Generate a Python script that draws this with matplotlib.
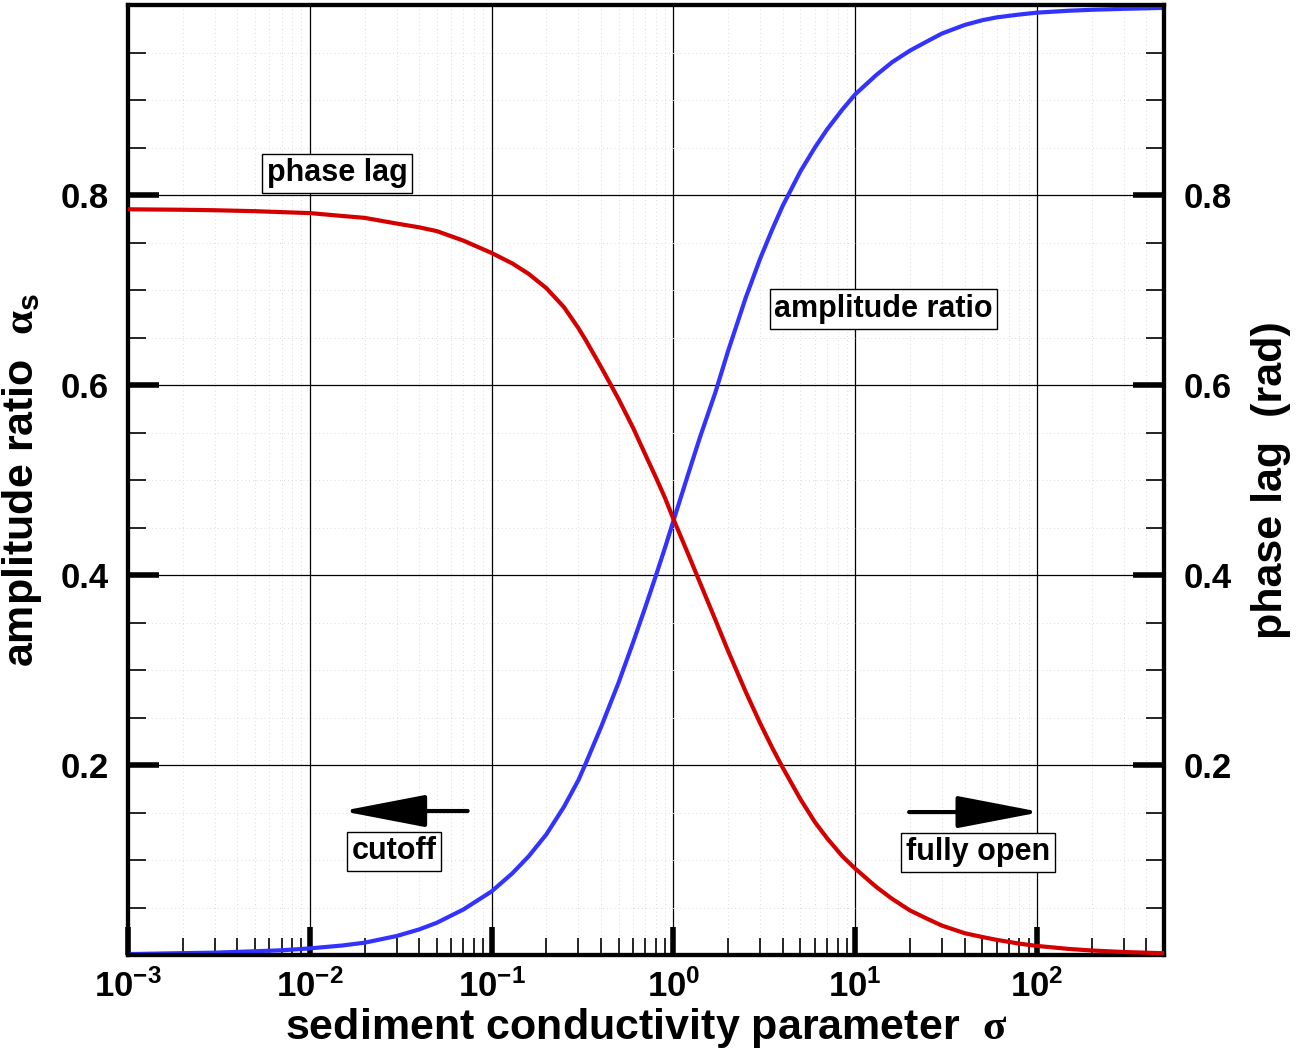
import matplotlib
matplotlib.use("Agg")
import matplotlib.pyplot as plt
from matplotlib.ticker import LogLocator, NullFormatter, FixedLocator, MultipleLocator

# values
sigma = [0.001, 0.002, 0.003, 0.005, 0.007, 0.01, 0.015, 0.02, 0.03, 0.04, 0.05,
         0.07, 0.1, 0.13, 0.16, 0.2, 0.25, 0.3, 0.33, 0.4, 0.5, 0.6, 0.7, 0.8,
         0.9, 1.0, 1.2, 1.4, 1.7, 2.0, 2.5, 3.0, 3.5, 4.0, 5.0, 6.0, 7.0, 8.5,
         10, 13, 16, 20, 25, 30, 40, 50, 60, 80, 100, 150, 200, 300, 500]
amplitude_ratio = [0.001, 0.002, 0.0025, 0.004, 0.005, 0.007, 0.010, 0.013, 0.020,
                   0.027, 0.034, 0.048, 0.067, 0.086, 0.104, 0.127, 0.156, 0.184,
                   0.202, 0.240, 0.287, 0.329, 0.366, 0.399, 0.429, 0.457, 0.505,
                   0.545, 0.592, 0.636, 0.692, 0.733, 0.764, 0.789, 0.825, 0.850,
                   0.869, 0.890, 0.906, 0.926, 0.940, 0.952, 0.962, 0.970, 0.979,
                   0.984, 0.987, 0.990, 0.992, 0.994, 0.995, 0.996, 0.997]
phase_lag = [0.785, 0.7845, 0.784, 0.783, 0.782, 0.781, 0.778, 0.776, 0.770, 0.766,
             0.762, 0.752, 0.739, 0.728, 0.717, 0.702, 0.682, 0.660, 0.647, 0.619,
             0.585, 0.555, 0.527, 0.503, 0.481, 0.459, 0.423, 0.392, 0.353, 0.320,
             0.277, 0.244, 0.218, 0.197, 0.164, 0.140, 0.123, 0.104, 0.091, 0.072,
             0.059, 0.047, 0.038, 0.031, 0.023, 0.019, 0.016, 0.012, 0.0096, 0.0064,
             0.0048, 0.0032, 0.0019]

y_major = [0.2, 0.4, 0.6, 0.8]
y_labels = ["0.2", "0.4", "0.6", "0.8"]
x_major = [1e-3, 1e-2, 1e-1, 1e0, 1e1, 1e2]
x_labels = [r"$\mathbf{10^{-3}}$", r"$\mathbf{10^{-2}}$", r"$\mathbf{10^{-1}}$",
            r"$\mathbf{10^{0}}$", r"$\mathbf{10^{1}}$", r"$\mathbf{10^{2}}$"]

plt.rcParams["font.family"] = ["Liberation Sans", "DejaVu Sans"]
plt.rcParams["font.weight"] = "bold"
plt.rcParams["mathtext.fontset"] = "custom"
plt.rcParams["mathtext.rm"] = "Liberation Serif"
plt.rcParams["mathtext.bf"] = "Liberation Sans:bold"
plt.rcParams["mathtext.sf"] = "Liberation Sans:bold"
plt.rcParams["mathtext.it"] = "Liberation Sans:italic"

fig = plt.figure(figsize=(13.05, 10.48), dpi=100)
ax = fig.add_axes([0.0981, 0.0887, 0.7939, 0.9065])
ax2 = ax.twinx()

ax.plot(sigma, amplitude_ratio, color="#3333ff", lw=3, zorder=3)
ax2.plot(sigma, phase_lag, color="#d40000", lw=3, zorder=3)

for a in (ax, ax2):
    a.set_xscale("log")
    a.set_xlim(1e-3, 500)
    a.set_ylim(0, 1.0)
    a.yaxis.set_major_locator(FixedLocator(y_major))
    a.yaxis.set_minor_locator(MultipleLocator(0.05))
    a.tick_params(axis="y", which="major", direction="in", length=22, width=4,
                  labelsize=25, pad=14)
    a.tick_params(axis="y", which="minor", direction="in", length=13, width=1.2)
    for s in a.spines.values():
        s.set_linewidth(3)

ax.set_yticklabels(y_labels, fontweight="bold")
ax2.set_yticklabels(y_labels, fontweight="bold")

ax.set_xticks(x_major)
ax.set_xticklabels(x_labels)
ax.xaxis.set_minor_locator(LogLocator(base=10, subs=range(2, 10), numticks=20))
ax.xaxis.set_minor_formatter(NullFormatter())
ax.tick_params(axis="x", which="major", direction="in", length=20, width=4,
               labelsize=25, pad=10, top=False)
ax.tick_params(axis="x", which="minor", direction="in", length=12, width=1.2, top=False)
ax2.tick_params(axis="x", which="both", top=False, bottom=False)

ax.grid(True, which="major", color="black", lw=0.9)
ax.grid(True, which="minor", color="#dcdcdc", lw=0.7, linestyle=(0, (1, 3)))
ax.set_axisbelow(True)

ax.set_xlabel(r"sediment conductivity parameter  $\mathrm{\sigma}$", fontsize=31,
              fontweight="bold", labelpad=2)
ax.set_ylabel(r"amplitude ratio  $\mathrm{\alpha}_{\mathsf{s}}$", fontsize=31,
              fontweight="bold", labelpad=12)
ax2.set_ylabel("phase lag  (rad)", fontsize=31, fontweight="bold", labelpad=14)

box = dict(boxstyle="square,pad=0.15", fc="white", ec="black", lw=1)
ax.text(0.0141, 0.823, "phase lag", fontsize=22, fontweight="bold", ha="center",
        va="center", bbox=box, zorder=5)
ax.text(14.3, 0.680, "amplitude ratio", fontsize=22, fontweight="bold", ha="center",
        va="center", bbox=box, zorder=5)
ax.text(0.029, 0.109, "cutoff", fontsize=22, fontweight="bold", ha="center",
        va="center", bbox=box, zorder=5)
ax.text(47.4, 0.108, "fully open", fontsize=22, fontweight="bold", ha="center",
        va="center", bbox=box, zorder=5)

arrow = dict(arrowstyle="-|>,head_length=5.2,head_width=1.0", lw=3, color="black",
             shrinkA=0, shrinkB=0, mutation_scale=10)
ax.annotate("", xy=(0.0150, 0.1516), xytext=(0.0738, 0.1516), arrowprops=arrow)
ax.annotate("", xy=(105, 0.1505), xytext=(19.8, 0.1505), arrowprops=arrow)

fig.savefig("out.png", dpi=100)
